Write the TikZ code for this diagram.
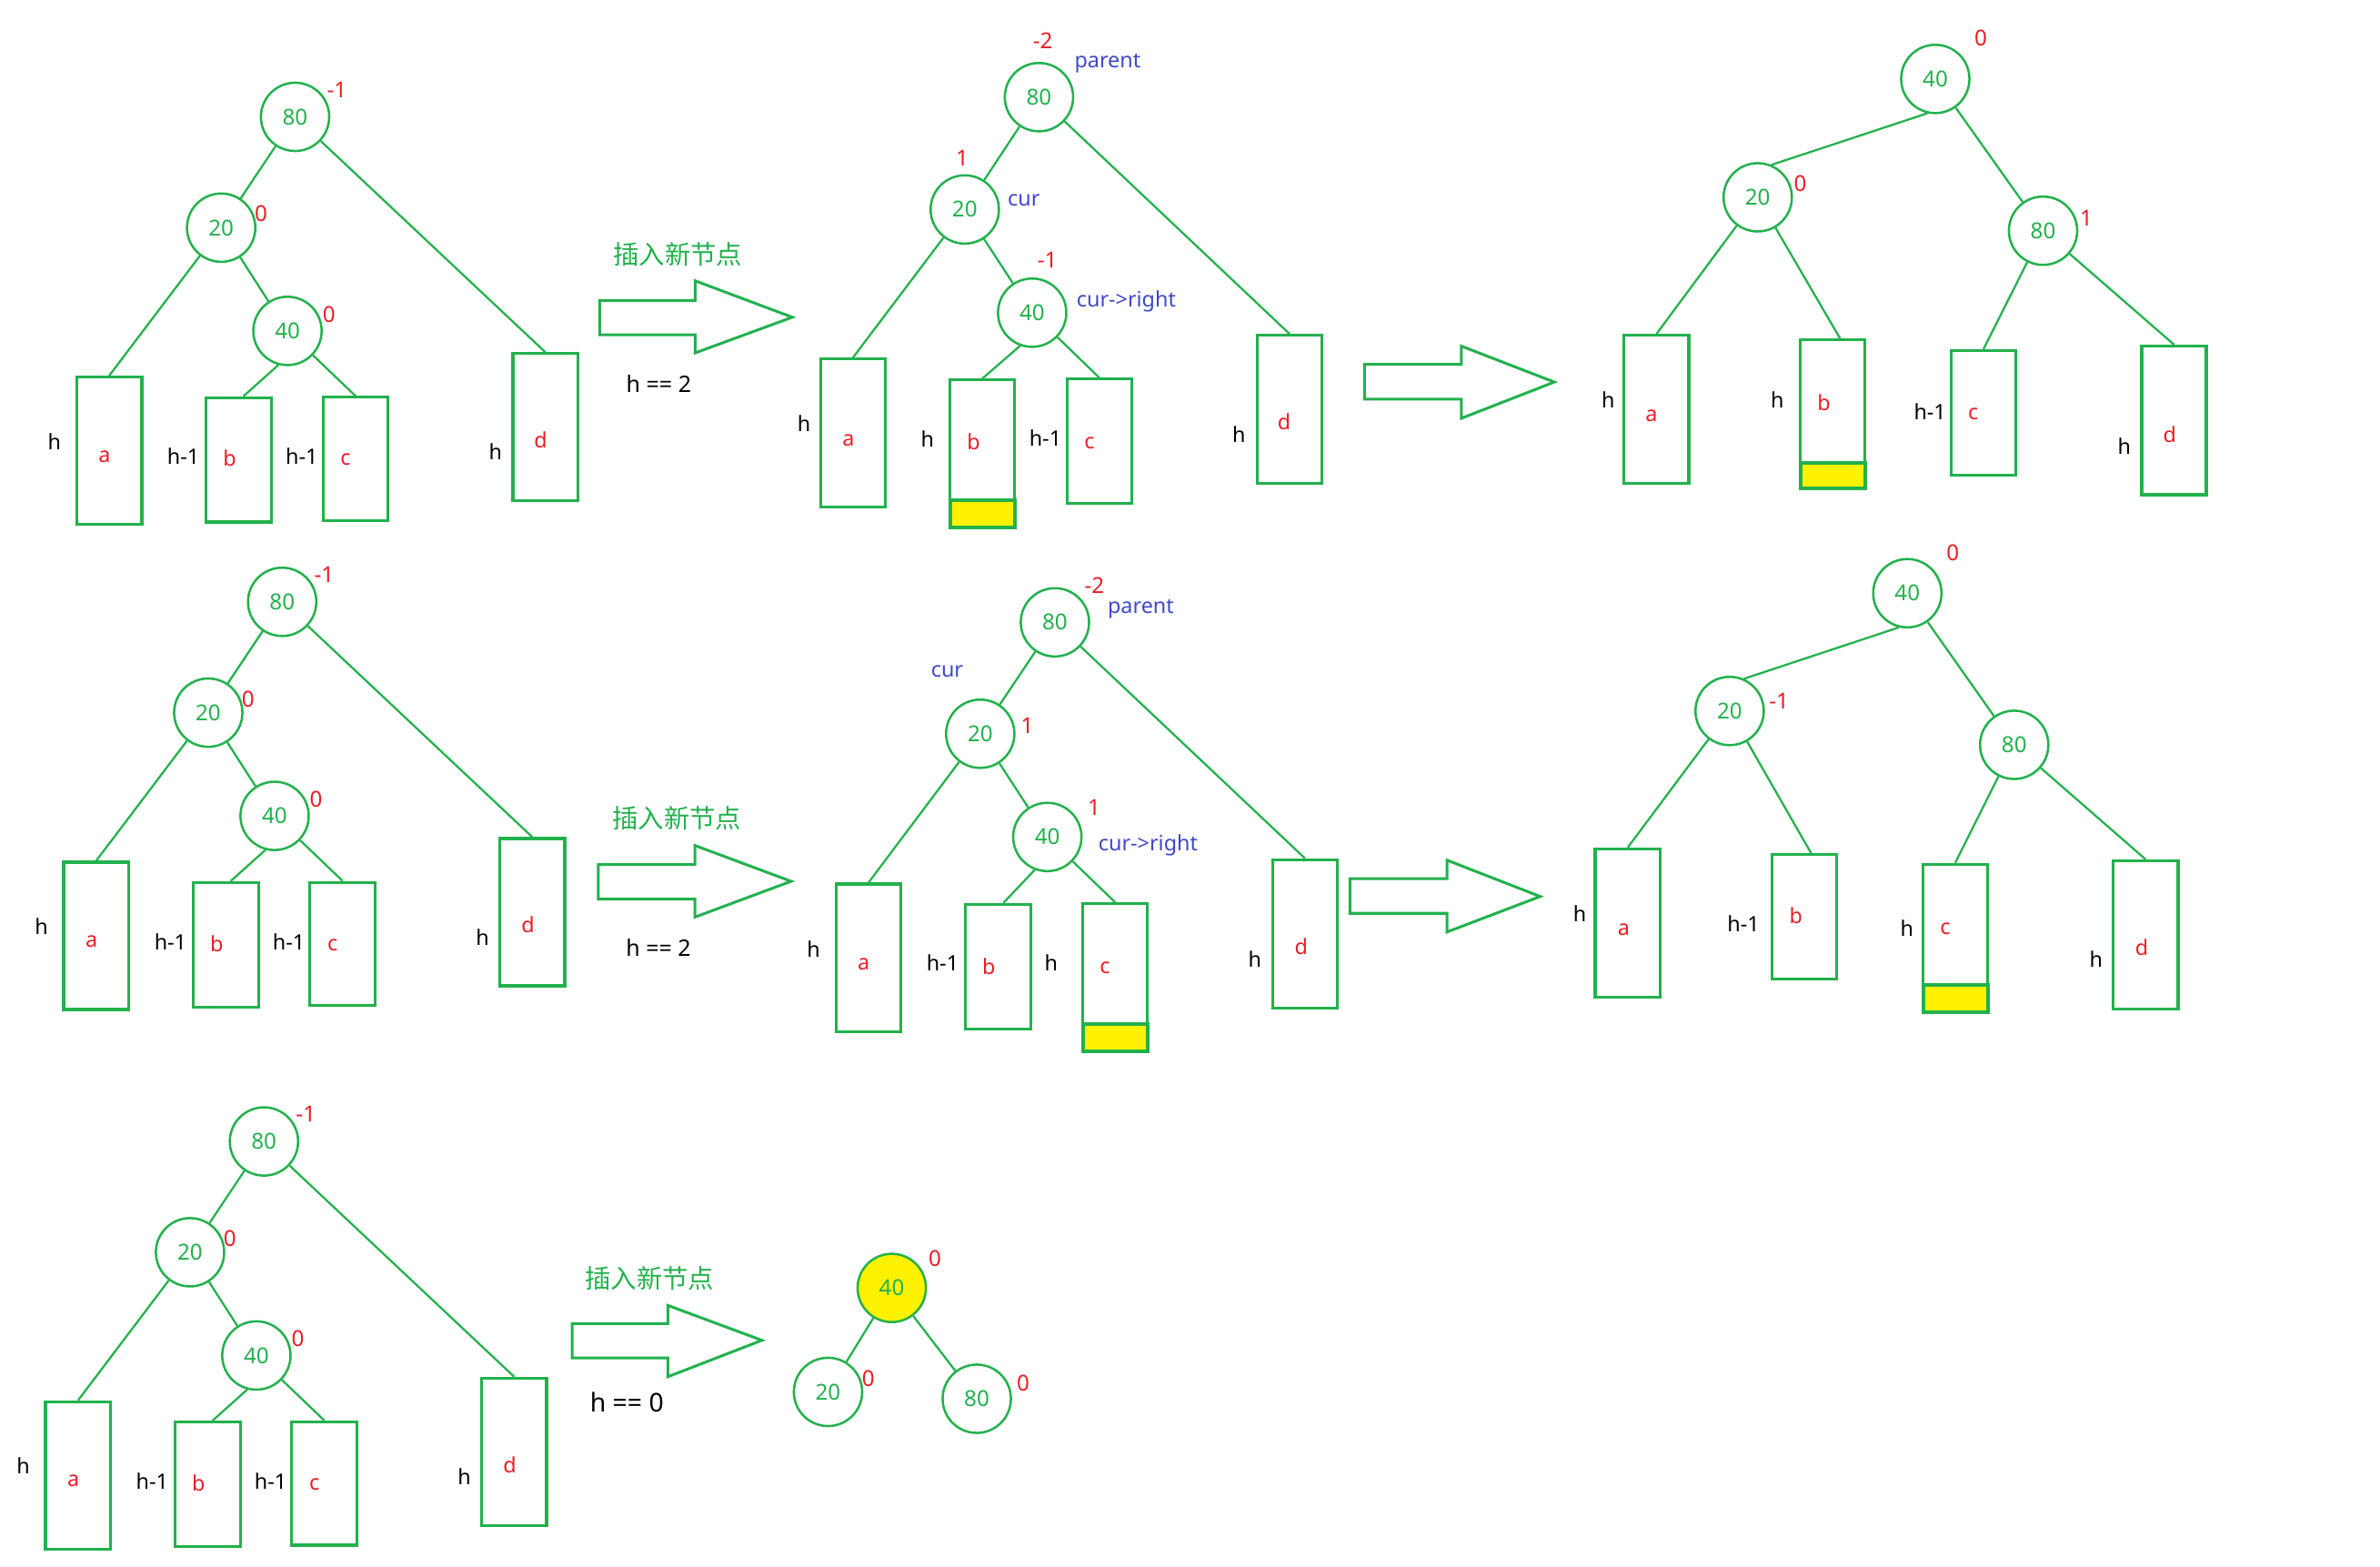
\documentclass[tikz,border=0pt]{standalone}
\usepackage{fontspec}
\setmainfont{Noto Sans}
\newfontfamily\cjk{Noto Sans CJK SC}
\definecolor{cG}{RGB}{34,177,76}
\definecolor{cR}{RGB}{237,28,36}
\definecolor{cB}{RGB}{63,72,204}
\definecolor{cY}{RGB}{255,242,0}
\tikzset{
 circ/.style={circle, draw=cG, line width=1.5pt, minimum size=45pt, inner sep=0pt, text=cG, font=\fontsize{14.5}{17}\selectfont},
 fcirc/.style={circ, fill=cY},
 tbx/.style={rectangle, draw=cG, line width=1.9pt, inner sep=0pt},
 ybx/.style={rectangle, draw=cG, fill=cY, line width=2.3pt, inner sep=0pt},
 conn/.style={draw=cG, line width=1.35pt},
 barrow/.style={draw=cG, line width=1.8pt, line join=miter},
 bal/.style={text=cR, inner sep=0pt, font=\fontsize{14.5}{17}\selectfont},
 lt/.style={text=cR, inner sep=0pt, font=\fontsize{14}{17}\selectfont},
 sd/.style={text=black, inner sep=0pt, font=\fontsize{14}{17}\selectfont},
 ptr/.style={text=cB, inner sep=0pt, font=\fontsize{14}{17}\selectfont},
 cn/.style={text=cG, inner sep=0pt, font=\cjk\fontsize{17}{20}\selectfont},
 cond/.style={text=black, inner sep=0pt, font=\fontsize{15}{18}\selectfont},
}
% box: name, xl, yt, xr, yb, letter, letter pos, side text, side pos
\newcommand\tbox[9]{%
 \node[tbx, minimum width={#4-#2}, minimum height={#5-#3}, anchor=north west] (#1) at (#2,#3) {};
 \node[lt] (#1l) at #7 {#6};
 \node[sd] (#1h) at #9 {#8};
}
% yellow bottom: box name, width, height
\newcommand\ybot[3]{%
 \node[ybx, minimum width={#2}, minimum height={#3}, anchor=south west] (#1y) at (#1.south west) {};
}
\newcommand\treeA[3]{%
\begin{scope}[shift={(#2,#3)}]
 \node[circ] (#1r) at (194.4,77) {80};
 \node[circ] (#1p) at (145.7,150) {20};
 \node[circ] (#1m) at (189.4,218) {40};
 \node[bal] (#1rb) at (222,59) {-1};
 \node[bal] (#1pb) at (172,141) {0};
 \node[bal] (#1mb) at (216.8,207) {0};
 \tbox{#1a}{49.5}{247.5}{92.5}{344.6}{a}{(68.8,300.8)}{h}{(35.8,290.8)}
 \tbox{#1b}{135}{261}{178}{343}{b}{(151.3,302)}{h-1}{(120.8,300.8)}
 \tbox{#1c}{211.8}{260.8}{254.6}{342}{c}{(227.6,303)}{h-1}{(198.8,300.8)}
 \tbox{#1d}{337}{232}{379.6}{329}{d}{(356.3,289.8)}{h}{(326.4,297.8)}
 \draw[conn] (#1r) -- (#1p);
 \draw[conn] (#1r) -- (#1d.north);
 \draw[conn] (#1p) -- (#1a.north);
 \draw[conn] (#1p) -- (#1m);
 \draw[conn] (#1m.255) -- ([xshift=3pt]#1b.north);
 \draw[conn] (#1m) -- (#1c.north);
\end{scope}}
\begin{document}
\begin{tikzpicture}[x=1pt,y=-1pt]
\path[use as bounding box] (0,0) rectangle (1568,1032.3);

% ---------- Row 1 ----------
\treeA{A}{0}{0}
\draw[barrow] (395,198) -- (458,198) -- (458,185) -- (522,209) -- (458,232.5) -- (458,220.5) -- (395,220.5) -- cycle;
\node[cn] (t1) at (446.6,167.4) {插入新节点};
\node[cond] (h1) at (434,252.7) {h == 2};

% tree B row 1
\node[circ] (B80) at (684.5,64) {80};
\node[circ] (B20) at (635.6,138) {20};
\node[circ] (B40) at (680,206) {40};
\node[bal] (B80b) at (687,26.6) {-2};
\node[bal] (B20b) at (634,104) {1};
\node[bal] (B40b) at (690,171) {-1};
\node[ptr] (Bp) at (729.7,42) {parent};
\node[ptr] (Bc1) at (674.5,132) {cur};
\node[ptr] (Bc2) at (742,198.5) {cur->right};
\tbox{Ba}{539.7}{235.6}{582.3}{333}{a}{(559,290)}{h}{(529.7,279)}
\tbox{Bb}{625}{249.4}{667.5}{346.7}{b}{(641.5,291)}{h}{(611,289.4)}
\ybot{Bb}{42.5}{18}
\tbox{Bc}{702}{248.8}{744.5}{330.8}{c}{(717.8,292)}{h-1}{(688.7,288.6)}
\tbox{Bd}{827.3}{220}{870}{317.3}{d}{(846,277.7)}{h}{(816.3,286.4)}
\draw[conn] (B80) -- (B20);
\draw[conn] (B80) -- (Bd.north);
\draw[conn] (B20) -- (Ba.north);
\draw[conn] (B20) -- (B40);
\draw[conn] (B40.250) -- (Bb.north);
\draw[conn] (B40) -- (Bc.north);

\draw[barrow] (899,240) -- (962.7,240) -- (962.7,228) -- (1024,251.7) -- (962.7,275.6) -- (962.7,263) -- (899,263) -- cycle;

% tree C row 1
\node[circ] (C40) at (1275,52) {40};
\node[circ] (C20) at (1158,130) {20};
\node[circ] (C80) at (1346,152) {80};
\node[bal] (C40b) at (1305,25) {0};
\node[bal] (C20b) at (1186,121) {0};
\node[bal] (C80b) at (1374.5,144) {1};
\tbox{Ca}{1069}{220}{1111.7}{317.6}{a}{(1088,274)}{h}{(1059.5,263.6)}
\tbox{Cb}{1185}{223}{1227.7}{321}{b}{(1201.7,265)}{h}{(1171,263.6)}
\ybot{Cb}{42.7}{17}
\tbox{Cc}{1284.6}{230}{1327}{312}{c}{(1300,273)}{h-1}{(1271.5,271)}
\tbox{Cd}{1410}{227}{1452.6}{325}{d}{(1429.5,286)}{h}{(1399.5,294)}
\draw[conn] (C40.257) -- (C20.67);
\draw[conn] (C40) -- (C80);
\draw[conn] (C20) -- (Ca.north);
\draw[conn] (C20) -- ([xshift=5pt]Cb.north);
\draw[conn] (C80) -- (Cc.north);
\draw[conn] (C80) -- (Cd.north);

% ---------- Row 2 ----------
\treeA{G}{-8.5}{319.5}
\draw[barrow] (394.2,569.6) -- (457.8,569.6) -- (457.8,557) -- (521.2,580.6) -- (457.8,604.2) -- (457.8,592.3) -- (394.2,592.3) -- cycle;
\node[cn] (t2) at (446,539) {插入新节点};
\node[cond] (h2) at (433.8,624.3) {h == 2};

% tree B row 2
\node[circ] (E80) at (695,410) {80};
\node[circ] (E20) at (645.8,483.4) {20};
\node[circ] (E40) at (690,551.4) {40};
\node[bal] (E80b) at (721,385.6) {-2};
\node[bal] (E20b) at (676.7,478) {1};
\node[bal] (E40b) at (720.8,531.8) {1};
\node[ptr] (Ep) at (751.6,401.4) {parent};
\node[ptr] (Ec1) at (624,442.6) {cur};
\node[ptr] (Ec2) at (756.4,556.6) {cur->right};
\tbox{Ea}{550}{581.4}{592.6}{679}{a}{(569,635.3)}{h}{(536,625)}
\tbox{Eb}{635}{594.8}{678.3}{677}{b}{(651.5,636.5)}{h-1}{(621,634.5)}
\tbox{Ec}{712.4}{594.4}{755}{692}{c}{(728,637.5)}{h}{(692.5,634.5)}
\ybot{Ec}{42.6}{18}
\tbox{Ed}{837.4}{565.4}{880}{663.3}{d}{(857.3,623.7)}{h}{(826.7,631.8)}
\draw[conn] (E80) -- (E20);
\draw[conn] (E80) -- (Ed.north);
\draw[conn] (E20) -- (Ea.north);
\draw[conn] (E20) -- (E40);
\draw[conn] (E40.249) -- ([xshift=3.5pt]Eb.north);
\draw[conn] (E40) -- (Ec.north);

\draw[barrow] (889.4,578.8) -- (953.3,578.8) -- (953.3,566.7) -- (1014.7,590.6) -- (953.3,614) -- (953.3,601.7) -- (889.4,601.7) -- cycle;

% tree C row 2
\node[circ] (D40) at (1256.6,390.8) {40};
\node[circ] (D20) at (1139.5,468.4) {20};
\node[circ] (D80) at (1327,490.7) {80};
\node[bal] (D40b) at (1286.5,364) {0};
\node[bal] (D20b) at (1172,462) {-1};
\tbox{Da}{1050}{558.3}{1092.9}{656}{a}{(1069.8,612.4)}{h}{(1040.8,602)}
\tbox{Db}{1166.4}{562}{1209}{644}{b}{(1183.2,603.4)}{h-1}{(1148.6,608.8)}
\tbox{Dc}{1266}{568.4}{1308.4}{666.3}{c}{(1281.6,612)}{h}{(1256.4,611.4)}
\ybot{Dc}{42.4}{18.3}
\tbox{Dd}{1391.3}{566.2}{1434}{664}{d}{(1411,624.3)}{h}{(1381,631.9)}
\draw[conn] (D40.256) -- (D20.66);
\draw[conn] (D40) -- (D80);
\draw[conn] (D20) -- (Da.north);
\draw[conn] (D20) -- ([xshift=4.5pt]Db.north);
\draw[conn] (D80) -- (Dc.north);
\draw[conn] (D80) -- (Dd.north);

% ---------- Row 3 ----------
\treeA{H}{-20.5}{675}
\draw[barrow] (377,872) -- (440,872) -- (440,860) -- (502,883) -- (440,907) -- (440,894.6) -- (377,894.6) -- cycle;
\node[cn] (t3) at (428,842) {插入新节点};
\node[cond, font=\fontsize{17}{20}\selectfont] (h3) at (413,923.6) {h == 0};

\node[fcirc] (F40) at (587.5,848.5) {40};
\node[circ] (F20) at (545.5,917) {20};
\node[circ] (F80) at (643.5,921.5) {80};
\node[bal] (F40b) at (616,829) {0};
\node[bal] (F20b) at (572,908) {0};
\node[bal] (F80b) at (674,911) {0};
\draw[conn] (F40) -- (F20);
\draw[conn] (F40) -- (F80);
\end{tikzpicture}
\end{document}
